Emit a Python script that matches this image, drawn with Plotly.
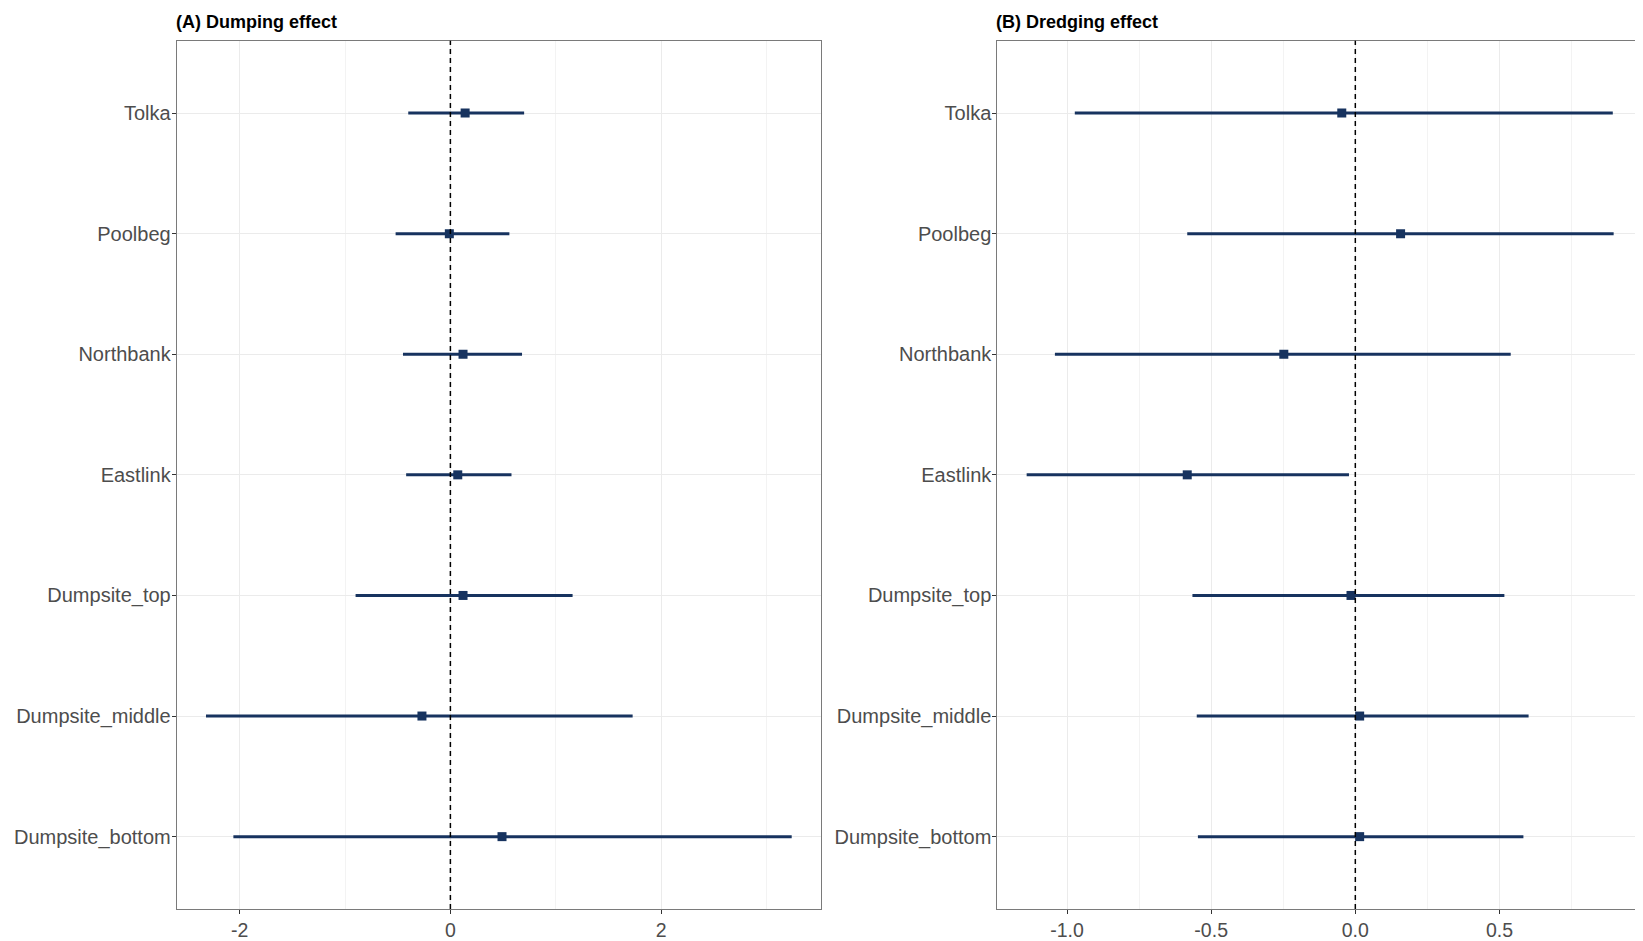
import plotly.graph_objects as go

sites = ["Tolka", "Poolbeg", "Northbank", "Eastlink", "Dumpsite_top", "Dumpsite_middle", "Dumpsite_bottom"]

dump_est = [0.14, -0.01, 0.12, 0.07, 0.12, -0.27, 0.49]
dump_low = [-0.40, -0.52, -0.45, -0.42, -0.90, -2.32, -2.06]
dump_high = [0.70, 0.56, 0.68, 0.58, 1.16, 1.73, 3.24]

dredge_est = [-0.047, 0.157, -0.248, -0.583, -0.015, 0.015, 0.015]
dredge_low = [-0.973, -0.583, -1.042, -1.14, -0.565, -0.55, -0.546]
dredge_high = [0.893, 0.896, 0.539, -0.022, 0.517, 0.601, 0.583]

panel_titles = ["(A) Dumping effect", "(B) Dredging effect"]
x_major = [[-2, 0, 2], [-1.0, -0.5, 0.0, 0.5]]
x_major_text = [["-2", "0", "2"], ["-1.0", "-0.5", "0.0", "0.5"]]
x_minor_dtick = [1, 0.25]

W, H = 1643, 941
COL = "#17335f"
TXT = "#4D4D4D"
FONT = "Liberation Sans, Arial, sans-serif"

fig = go.Figure()
panels = [(dump_est, dump_low, dump_high), (dredge_est, dredge_low, dredge_high)]
xdomains = [[168.7 / W, 813.0 / W], [989.3 / W, 1635.0 / W]]
ydomain = [(H - 901.0) / H, (H - 32.7) / H]
order_bottom_up = list(reversed(sites))

for i, (est, low, high) in enumerate(panels):
    xa = "x" if i == 0 else "x2"
    ya = "y" if i == 0 else "y2"
    plus = [h - e for h, e in zip(high, est)]
    minus = [e - l for e, l in zip(est, low)]
    fig.add_trace(go.Scatter(
        x=est, y=sites, mode="markers", xaxis=xa, yaxis=ya,
        marker=dict(symbol="square", size=9, color=COL),
        error_x=dict(type="data", array=plus, arrayminus=minus, width=0,
                     thickness=3, color=COL, symmetric=False),
        showlegend=False, hoverinfo="x+y",
    ))
    lo, hi = min(low), max(high)
    pad = 0.05 * (hi - lo)
    rng = [lo - pad, hi + pad]
    axkey = "xaxis" if i == 0 else "xaxis2"
    aykey = "yaxis" if i == 0 else "yaxis2"
    fig.update_layout(**{
        axkey: dict(
            domain=xdomains[i], range=rng, anchor=ya,
            tickvals=x_major[i], ticktext=x_major_text[i],
            showgrid=True, gridcolor="#EBEBEB", gridwidth=1.1,
            minor=dict(dtick=x_minor_dtick[i], tick0=0, showgrid=True,
                       gridcolor="#F3F3F3", gridwidth=0.6, ticks=""),
            zeroline=False, showline=True, mirror=True, linecolor="#7a7a7a", linewidth=1,
            ticks="outside", ticklen=4, tickcolor="#333333", tickwidth=1,
            tickfont=dict(family=FONT, size=19.5, color=TXT),
        ),
        aykey: dict(
            domain=ydomain, anchor=xa, type="category",
            categoryorder="array", categoryarray=order_bottom_up,
            range=[-0.6, 6.6],
            showgrid=True, gridcolor="#EBEBEB", gridwidth=1.1,
            zeroline=False, showline=True, mirror=True, linecolor="#7a7a7a", linewidth=1,
            ticks="outside", ticklen=4, tickcolor="#333333", tickwidth=1,
            ticklabelstandoff=-3,
            tickfont=dict(family=FONT, size=20, color=TXT),
        ),
    })
    fig.add_shape(type="line", xref=xa, yref=("y domain" if i == 0 else "y2 domain"),
                  x0=0, x1=0, y0=0, y1=1,
                  line=dict(color="black", width=1.5, dash="5px,4px"))
    fig.add_annotation(text="<b>" + panel_titles[i] + "</b>", xref="paper", yref="paper",
                       x=xdomains[i][0], y=1 - 14.0 / H, xanchor="left", yanchor="middle",
                       xshift=-3, showarrow=False,
                       font=dict(family=FONT, size=18, color="black"))

fig.update_layout(
    width=W, height=H, margin=dict(l=0, r=0, t=0, b=0),
    paper_bgcolor="white", plot_bgcolor="white",
    font=dict(family=FONT),
)

fig.write_html("out.html")
